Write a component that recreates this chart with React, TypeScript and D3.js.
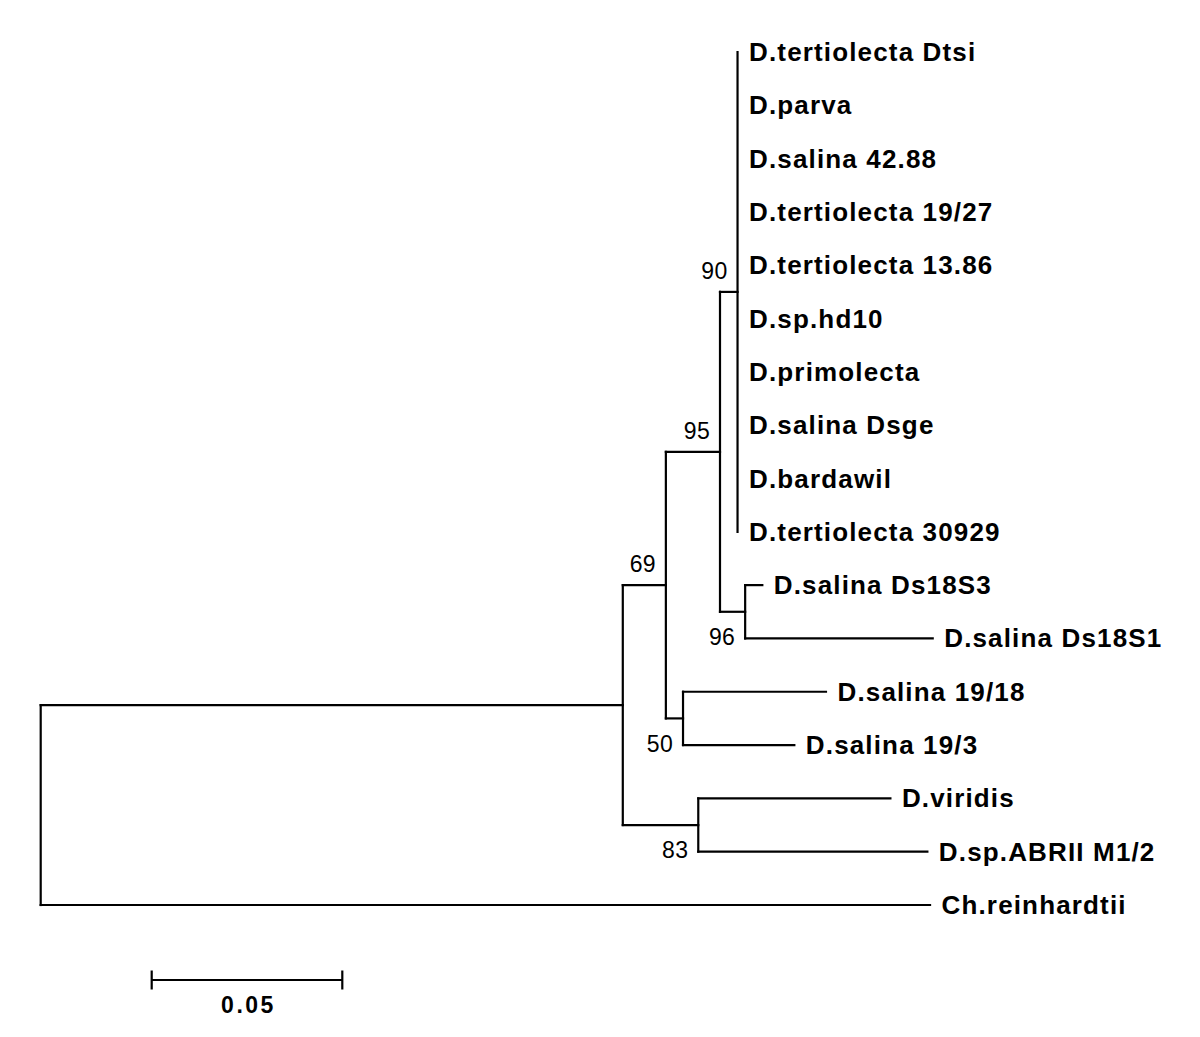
import React from "react";
import * as d3 from "d3";

// Tree topology & branch lengths (substitutions/site)
const branchIds = [
  "root", "A", "B", "C", "D",
  "D.tertiolecta Dtsi", "D.parva", "D.salina 42.88", "D.tertiolecta 19/27", "D.tertiolecta 13.86",
  "D.sp.hd10", "D.primolecta", "D.salina Dsge", "D.bardawil", "D.tertiolecta 30929",
  "E", "D.salina Ds18S3", "D.salina Ds18S1",
  "F", "D.salina 19/18", "D.salina 19/3",
  "G", "D.viridis", "D.sp.ABRII M1/2",
  "Ch.reinhardtii",
];
const branchParents = [
  "", "root", "A", "B", "C",
  "D", "D", "D", "D", "D",
  "D", "D", "D", "D", "D",
  "C", "E", "E",
  "B", "F", "F",
  "A", "G", "G",
  "root",
];
const branchLengths = [
  0, 0.1527, 0.0113, 0.0142, 0.0046,
  0, 0, 0, 0, 0,
  0, 0, 0, 0, 0,
  0.0066, 0.0045, 0.0492,
  0.0045, 0.0375, 0.0292,
  0.0198, 0.0504, 0.0601,
  0.2333,
];

// Bootstrap support
const bootNodes = ["D", "C", "B", "E", "F", "G"];
const bootValues = [90, 95, 69, 96, 50, 83];
const bootPlacement = ["above", "above", "above", "below", "below", "below"];

// Scale bar
const scaleBarValue = 0.05;
const scaleBarLabel = "0.05";

export default function App() {
  const width = 1200;
  const height = 1037;

  const table = branchIds.map((id, i) => ({
    id,
    parent: branchParents[i],
    length: branchLengths[i],
  }));
  const root = d3
    .stratify<any>()
    .id((d) => d.id)
    .parentId((d) => (d.parent === "" ? null : d.parent))(table);

  const leaves = root.leaves();
  const x = d3.scaleLinear().domain([0, scaleBarValue]).range([40.7, 40.7 + 190.6]);
  const y = d3.scaleLinear().domain([0, leaves.length - 1]).range([52, 905]);

  const dist = new Map<any, number>();
  root.each((n: any) => {
    dist.set(n, n.parent ? dist.get(n.parent)! + n.data.length : 0);
  });
  const ypos = new Map<any, number>();
  leaves.forEach((l, i) => ypos.set(l, y(i)));
  root.eachAfter((n: any) => {
    if (n.children) {
      const c = n.children;
      ypos.set(n, (ypos.get(c[0])! + ypos.get(c[c.length - 1])!) / 2);
    }
  });

  const nodes = root.descendants();
  const byId = new Map<string, any>();
  nodes.forEach((n: any) => byId.set(n.id, n));

  const stroke = "#000";
  const sw = 2.2;

  const barX0 = 151.7;
  const barLen = x(scaleBarValue) - x(0);

  return (
    <svg
      width={width}
      height={height}
      style={{ position: "absolute", left: 0, top: 0, background: "#fff" }}
    >
      <rect width={width} height={height} fill="#fff" />
      <g stroke={stroke} strokeWidth={sw} strokeLinecap="square" fill="none">
        {nodes
          .filter((n: any) => n.parent && n.data.length > 0)
          .map((n: any) => (
            <line
              key={"h" + n.id}
              x1={x(dist.get(n.parent)!)}
              x2={x(dist.get(n)!)}
              y1={ypos.get(n)}
              y2={ypos.get(n)}
            />
          ))}
        {nodes
          .filter((n: any) => n.children)
          .map((n: any) => {
            const c = n.children;
            return (
              <line
                key={"v" + n.id}
                x1={x(dist.get(n)!)}
                x2={x(dist.get(n)!)}
                y1={ypos.get(c[0])}
                y2={ypos.get(c[c.length - 1])}
              />
            );
          })}
      </g>
      <g
        fontFamily="'Liberation Sans', Arial, sans-serif"
        fontWeight="bold"
        fontSize={26}
        letterSpacing={1.15}
        fill="#000"
      >
        {leaves.map((l: any) => (
          <text key={"t" + l.id} x={x(dist.get(l)!) + 11.5} y={ypos.get(l)! + 9}>
            {l.id}
          </text>
        ))}
      </g>
      <g
        fontFamily="'Liberation Sans', Arial, sans-serif"
        fontSize={23}
        letterSpacing={0.3}
        fill="#000"
        textAnchor="end"
      >
        {bootNodes.map((id, i) => {
          const n = byId.get(id);
          const nx = x(dist.get(n)!);
          const c = n.children;
          const ty =
            bootPlacement[i] === "above"
              ? ypos.get(n)! - 13
              : ypos.get(c[c.length - 1])! + 6.5;
          return (
            <text key={"b" + id} x={nx - 10} y={ty}>
              {bootValues[i]}
            </text>
          );
        })}
      </g>
      <g stroke={stroke} strokeWidth={sw} fill="none">
        <line x1={barX0} x2={barX0 + barLen} y1={980} y2={980} />
        <line x1={barX0} x2={barX0} y1={970.5} y2={989.5} />
        <line x1={barX0 + barLen} x2={barX0 + barLen} y1={970.5} y2={989.5} />
      </g>
      <text
        x={barX0 + barLen / 2 + 1.5}
        y={1013}
        textAnchor="middle"
        fontFamily="'Liberation Sans', Arial, sans-serif"
        fontWeight="bold"
        fontSize={23}
        letterSpacing={2.5}
      >
        {scaleBarLabel}
      </text>
    </svg>
  );
}
